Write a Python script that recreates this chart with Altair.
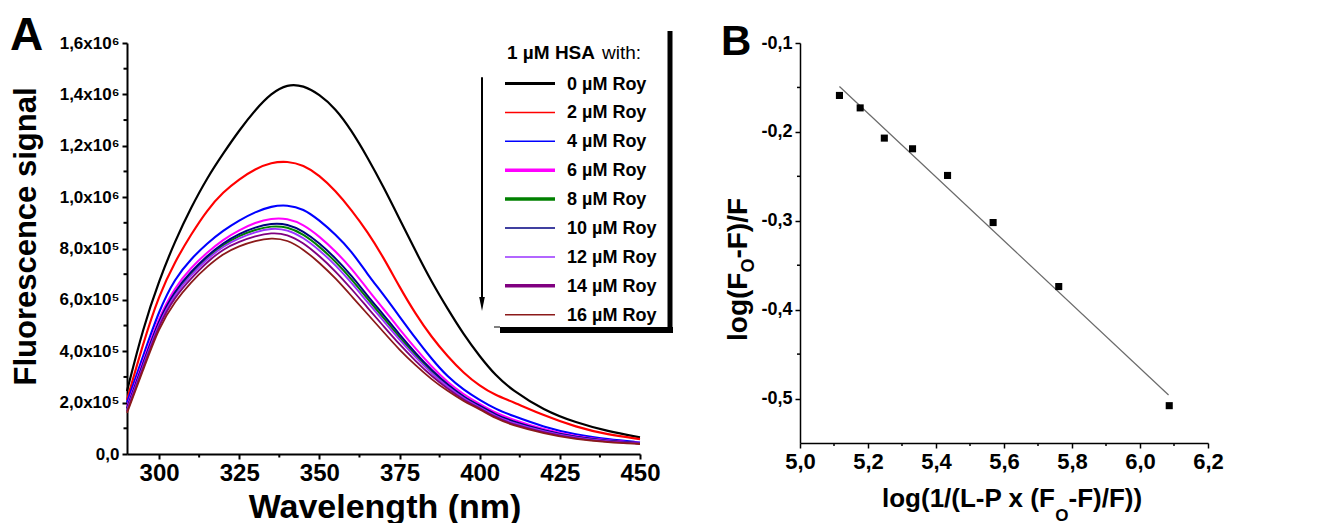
import altair as alt
import pandas as pd

FONT = "Liberation Sans"

# ---------------- Panel A data (fluorescence x 1e5) ----------------
wavelength = [290, 295, 300, 305, 310, 315, 320, 325, 330, 335, 340, 345, 350, 355,
              360, 365, 370, 375, 380, 385, 390, 395, 400, 405, 410, 420, 430, 440, 450]
roy_0 = [2.45, 4.9, 6.75, 8.3, 9.6, 10.75, 11.7, 12.6, 13.4, 14.05, 14.4, 14.35, 14.0, 13.45,
         12.6, 11.55, 10.4, 9.15, 7.9, 6.7, 5.65, 4.65, 3.8, 3.05, 2.5, 1.7, 1.22, 0.88, 0.65]
roy_2 = [2.1, 4.3, 6.2, 7.5, 8.55, 9.5, 10.2, 10.7, 11.1, 11.35, 11.4, 11.25, 10.85, 10.25,
         9.5, 8.65, 7.65, 6.5, 5.45, 4.55, 3.8, 3.15, 2.65, 2.28, 2.05, 1.5, 1.05, 0.75, 0.58]
roy_4 = [2.0, 3.8, 5.6, 6.85, 7.6, 8.2, 8.7, 9.1, 9.42, 9.65, 9.7, 9.55, 9.1, 8.55,
         7.9, 7.0, 6.2, 5.35, 4.5, 3.7, 3.0, 2.5, 2.1, 1.75, 1.5, 1.05, 0.75, 0.57, 0.45]
roy_6 = [1.85, 3.59, 5.35, 6.5, 7.26, 7.85, 8.35, 8.72, 9.01, 9.18, 9.18, 8.94, 8.47, 7.9,
         7.23, 6.41, 5.65, 4.86, 4.1, 3.4, 2.79, 2.32, 1.95, 1.6, 1.35, 0.95, 0.68, 0.52, 0.43]
roy_8 = [1.75, 3.46, 5.2, 6.3, 7.04, 7.65, 8.15, 8.5, 8.74, 8.88, 8.85, 8.56, 8.08, 7.5,
         6.81, 6.04, 5.3, 4.54, 3.85, 3.2, 2.66, 2.2, 1.85, 1.5, 1.25, 0.89, 0.64, 0.5, 0.41]
roy_10 = [1.78, 3.5, 5.25, 6.37, 7.11, 7.72, 8.22, 8.58, 8.83, 8.98, 8.96, 8.68, 8.21, 7.63,
          6.95, 6.16, 5.42, 4.65, 3.93, 3.27, 2.7, 2.23, 1.88, 1.53, 1.28, 0.91, 0.65, 0.51, 0.42]
roy_12 = [1.72, 3.41, 5.14, 6.24, 6.97, 7.59, 8.09, 8.41, 8.64, 8.79, 8.74, 8.43, 7.94, 7.36,
          6.67, 5.91, 5.18, 4.44, 3.76, 3.14, 2.61, 2.16, 1.82, 1.47, 1.22, 0.87, 0.62, 0.49, 0.41]
roy_14 = [1.66, 3.34, 5.05, 6.13, 6.84, 7.48, 7.98, 8.27, 8.48, 8.62, 8.56, 8.22, 7.71, 7.12,
          6.43, 5.7, 4.98, 4.26, 3.62, 3.03, 2.54, 2.1, 1.78, 1.43, 1.16, 0.84, 0.6, 0.47, 0.4]
roy_16 = [1.6, 3.25, 4.95, 5.95, 6.7, 7.3, 7.8, 8.1, 8.3, 8.42, 8.34, 7.97, 7.45, 6.85,
          6.15, 5.45, 4.75, 4.05, 3.45, 2.9, 2.45, 2.05, 1.75, 1.38, 1.13, 0.8, 0.57, 0.45, 0.39]

series_labels = ["0 µM Roy", "2 µM Roy", "4 µM Roy", "6 µM Roy", "8 µM Roy",
                 "10 µM Roy", "12 µM Roy", "14 µM Roy", "16 µM Roy"]
series_colors = ["#000000", "#ff0000", "#0000ff", "#ff00ff", "#008000",
                 "#000080", "#9933ff", "#800080", "#8b1a1a"]
curve_widths = [2.2, 1.8, 2.0, 2.0, 2.0, 1.6, 1.6, 2.2, 1.6]
legend_widths = [3.0, 1.5, 1.5, 3.5, 3.5, 1.5, 1.5, 3.5, 1.5]
curves = [roy_0, roy_2, roy_4, roy_6, roy_8, roy_10, roy_12, roy_14, roy_16]

x_major_A = [300, 325, 350, 375, 400, 425, 450]
x_minor_A = [312.5, 337.5, 362.5, 387.5, 412.5, 437.5]
y_major_A = [0, 200000, 400000, 600000, 800000, 1000000, 1200000, 1400000, 1600000]
y_minor_A = [100000, 300000, 500000, 700000, 900000, 1100000, 1300000, 1500000]
y_labels_A = ["0,0", "2,0x10⁵", "4,0x10⁵", "6,0x10⁵", "8,0x10⁵",
              "1,0x10⁶", "1,2x10⁶", "1,4x10⁶", "1,6x10⁶"]

# ---------------- Panel B data ----------------
b_x = [5.116, 5.177, 5.248, 5.331, 5.434, 5.568, 5.761, 6.086]
b_y = [-0.159, -0.173, -0.207, -0.219, -0.249, -0.302, -0.374, -0.508]
fit_x = [5.116, 6.084]
fit_y = [-0.149, -0.496]
x_major_B = [5.0, 5.2, 5.4, 5.6, 5.8, 6.0, 6.2]
x_minor_B = [5.1, 5.3, 5.5, 5.7, 5.9, 6.1]
x_labels_B = ["5,0", "5,2", "5,4", "5,6", "5,8", "6,0", "6,2"]
y_major_B = [-0.5, -0.4, -0.3, -0.2, -0.1]
y_minor_B = [-0.45, -0.35, -0.25, -0.15]
y_labels_B = ["-0,5", "-0,4", "-0,3", "-0,2", "-0,1"]

# ---------------- helpers ----------------
one = pd.DataFrame({"a": [0]})


def js_list(items):
    return "[" + ",".join("'" + s + "'" for s in items) + "]"


def txt(text, x, y, size, weight="bold", align="left", baseline="alphabetic", angle=None):
    kw = dict(text=text, font=FONT, fontSize=size, fontWeight=weight,
              align=align, baseline=baseline, color="black")
    if angle is not None:
        kw["angle"] = angle
    return alt.Chart(one).mark_text(**kw).encode(x=alt.value(x), y=alt.value(y))


def hrule(x1, x2, y, w, color="black", opacity=1.0):
    return alt.Chart(one).mark_rule(color=color, strokeWidth=w, opacity=opacity).encode(
        x=alt.value(x1), x2=alt.value(x2), y=alt.value(y))


def vrule(x, y1, y2, w, color="black"):
    return alt.Chart(one).mark_rule(color=color, strokeWidth=w).encode(
        x=alt.value(x), y=alt.value(y1), y2=alt.value(y2))


def axis_style(**kw):
    base = dict(title=None, grid=False, labelFont=FONT, labelFontWeight="bold",
                labelColor="black", tickColor="black", domainColor="black",
                labelFlush=False, labelOverlap=False)
    base.update(kw)
    return alt.Axis(**base)


# ---------------- Panel A ----------------
rows = []
for lab, vals in zip(series_labels, curves):
    for w, v in zip(wavelength, vals):
        rows.append({"series": lab, "wl": w, "val": v * 1e5})
dfA = pd.DataFrame(rows)

WA, HA = 513, 411
xA = alt.Scale(domain=[290, 450], nice=False, zero=False)
yA = alt.Scale(domain=[0, 1600000], nice=False)
axXA = axis_style(values=x_major_A, labelFontSize=24, tickSize=5, tickWidth=2,
                  domainWidth=2, labelPadding=2)
axYA = axis_style(values=y_major_A, labelFontSize=17, tickSize=5, tickWidth=2,
                  domainWidth=2, labelPadding=3,
                  labelExpr=js_list(y_labels_A) + "[round(datum.value/200000)]")

lines = alt.Chart(dfA).mark_line(interpolate="basis").encode(
    x=alt.X("wl:Q", scale=xA, axis=axXA, title=None),
    y=alt.Y("val:Q", scale=yA, axis=axYA, title=None),
    color=alt.Color("series:N", scale=alt.Scale(domain=series_labels, range=series_colors),
                    legend=None),
    strokeWidth=alt.StrokeWidth("series:N", scale=alt.Scale(domain=series_labels,
                                                            range=curve_widths), legend=None),
)

minor_xA = alt.Chart(pd.DataFrame({"wl": x_minor_A})).mark_rule(color="black", strokeWidth=2).encode(
    x=alt.X("wl:Q", scale=xA, axis=axXA, title=None), y=alt.value(HA), y2=alt.value(HA + 3.5))
minor_yA = alt.Chart(pd.DataFrame({"val": y_minor_A})).mark_rule(color="black", strokeWidth=2).encode(
    y=alt.Y("val:Q", scale=yA, axis=axYA, title=None), x=alt.value(-3.5), x2=alt.value(0))

layersA = [lines, minor_xA, minor_yA,
           alt.Chart(one).mark_rule(opacity=0).encode(
               x=alt.value(-119), x2=alt.value(553), y=alt.value(-31))]

# legend block
layersA.append(txt("1 µM HSA", 380, 16, 19))
layersA.append(txt("with:", 475, 16, 19, weight="normal"))
for i, (lab, col, lw) in enumerate(zip(series_labels, series_colors, legend_widths)):
    yy = 40.5 + 28.9 * i
    layersA.append(hrule(378, 428, yy, lw, color=col))
    layersA.append(txt(lab, 440, yy + 1, 18, baseline="middle"))
layersA.append(vrule(543, -12, 290, 5))
layersA.append(hrule(373, 546, 287, 6))
layersA.append(hrule(367, 373, 284, 1))
# arrow
layersA.append(vrule(355, 34.3, 256, 2))
layersA.append(alt.Chart(one).mark_point(shape="M-0.4,-1L0.4,-1L0,1Z", filled=True,
                                         size=196, color="black", opacity=1).encode(
    x=alt.value(355), y=alt.value(261)))
# titles
layersA.append(txt("A", -117, -29, 46, baseline="top"))
layersA.append(txt("Fluorescence signal", -91, 193.5, 31, align="center", angle=270))
layersA.append(txt("Wavelength (nm)", 258, 475, 34, align="center"))

chartA = alt.layer(*layersA).properties(width=WA, height=HA)

# ---------------- Panel B ----------------
WB, HB = 408, 400
xB = alt.Scale(domain=[5.0, 6.2], nice=False, zero=False)
yB = alt.Scale(domain=[-0.55, -0.1], nice=False, zero=False)
axXB = axis_style(values=x_major_B, labelFontSize=22, tickSize=5, tickWidth=1.5,
                  domainWidth=1.5, labelPadding=3,
                  labelExpr=js_list(x_labels_B) + "[round((datum.value-5)*5)]")
axYB = axis_style(values=y_major_B, labelFontSize=18, tickSize=5, tickWidth=1.5,
                  domainWidth=1.5, labelPadding=3,
                  labelExpr=js_list(y_labels_B) + "[round((datum.value+0.5)*10)]")

dfB = pd.DataFrame({"x": b_x, "y": b_y})
dfFit = pd.DataFrame({"x": fit_x, "y": fit_y})

fit = alt.Chart(dfFit).mark_line(color="#6a6a6a", strokeWidth=1.2).encode(
    x=alt.X("x:Q", scale=xB, axis=axXB, title=None),
    y=alt.Y("y:Q", scale=yB, axis=axYB, title=None))
pts = alt.Chart(dfB).mark_square(size=50, color="black", opacity=1).encode(
    x=alt.X("x:Q", scale=xB, axis=axXB, title=None),
    y=alt.Y("y:Q", scale=yB, axis=axYB, title=None))

minor_xB = alt.Chart(pd.DataFrame({"x": x_minor_B})).mark_rule(color="black", strokeWidth=1.5).encode(
    x=alt.X("x:Q", scale=xB, axis=axXB, title=None), y=alt.value(HB), y2=alt.value(HB + 3))
minor_yB = alt.Chart(pd.DataFrame({"y": y_minor_B})).mark_rule(color="black", strokeWidth=1.5).encode(
    y=alt.Y("y:Q", scale=yB, axis=axYB, title=None), x=alt.value(-3), x2=alt.value(0))

layersB = [fit, pts, minor_xB, minor_yB,
           alt.Chart(one).mark_rule(opacity=0).encode(
               x=alt.value(-100), x2=alt.value(0), y=alt.value(-35))]
layersB.append(txt("B", -79, -21, 42, baseline="top"))
# y title: log(F_O-F)/F  (rotated)
layersB.append(txt("log(F", -53, 298, 28, angle=270))
layersB.append(txt("O", -46, 229.6, 18, angle=270))
layersB.append(txt("-F)/F", -53, 215.6, 28, angle=270))
# x title: log(1/(L-P x (F_O-F)/F))
layersB.append(txt("log(1/(L-P x (F", 82, 464, 26))
layersB.append(txt("O", 255.3, 478, 17))
layersB.append(txt("-F)/F))", 268.5, 464, 26))

chartB = alt.layer(*layersB).properties(width=WB, height=HB)

chart = alt.hconcat(chartA, chartB, spacing=20).properties(
    padding=0, background="white").configure_view(stroke=None)

chart.save("out.html", embed_options={"renderer": "svg", "actions": False})
